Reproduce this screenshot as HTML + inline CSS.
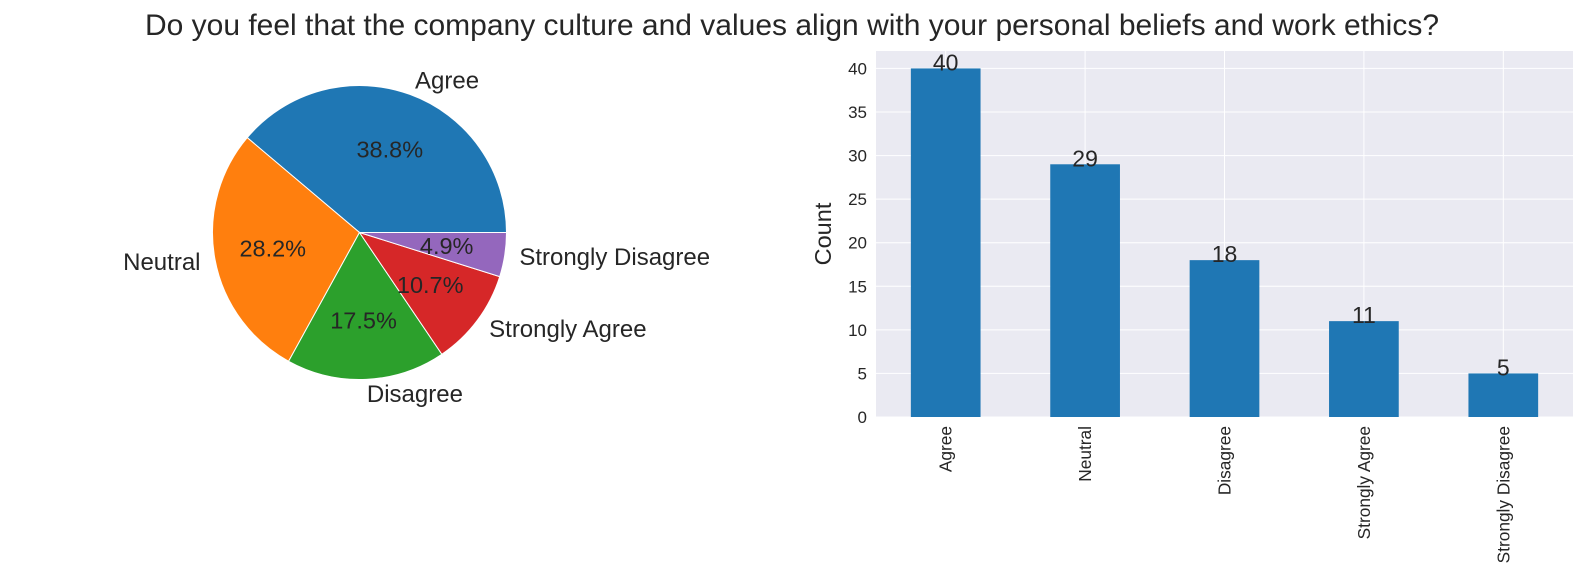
<!DOCTYPE html>
<html><head><meta charset="utf-8"><style>
body{margin:0;background:#fff;}
svg{display:block;font-family:"Liberation Sans",Arial,sans-serif;}
</style></head><body>
<svg id="c" width="1584" height="576" xmlns="http://www.w3.org/2000/svg">
<text x="792" y="35" text-anchor="middle" font-size="30" fill="#262626">Do you feel that the company culture and values align with your personal beliefs and work ethics?</text>
<g id="pie"></g>
<g id="bar"></g>
</svg>
<script>
const categories = ["Agree","Neutral","Disagree","Strongly Agree","Strongly Disagree"];
const counts = [40,29,18,11,5];
const yTicks = [0,5,10,15,20,25,30,35,40];
const colors = ["#1f77b4","#ff7f0e","#2ca02c","#d62728","#9467bd"];
const NS="http://www.w3.org/2000/svg";
function mk(tag,attrs,parent,text){const e=document.createElementNS(NS,tag);for(const k in attrs)e.setAttribute(k,attrs[k]);if(text!==undefined)e.textContent=text;parent.appendChild(e);return e;}
// Pie
const pie=document.getElementById('pie');
const cx=359.5,cy=232.5,R=147;
const total=counts.reduce((a,b)=>a+b,0);
let a0=0;
counts.forEach((v,i)=>{
  const frac=v/total, a1=a0+frac*2*Math.PI;
  const x0=cx+R*Math.cos(a0),y0=cy-R*Math.sin(a0),x1=cx+R*Math.cos(a1),y1=cy-R*Math.sin(a1);
  const large=frac>0.5?1:0;
  const p=mk('path',{d:`M${cx},${cy} L${x0},${y0} A${R},${R} 0 ${large} 0 ${x1},${y1} Z`,fill:colors[i],stroke:'#fff','stroke-width':1},pie);
  
  
  const am=(a0+a1)/2, c=Math.cos(am), s=Math.sin(am);
  const lt=mk('text',{x:cx+1.1*R*c,y:cy-1.1*R*s+8,'text-anchor':c>=0?'start':'end','font-size':24,fill:'#262626'},pie,categories[i]);
  
  
  const pt=mk('text',{x:cx+0.6*R*c,y:cy-0.6*R*s+8,'text-anchor':'middle','font-size':23.5,fill:'#262626'},pie,(frac*100).toFixed(1)+'%');
  
  
  a0=a1;
});
// Bar
const bar=document.getElementById('bar');
const L=876,Rt=1573,T=51,B=417,yMax=42;
const xs=i=>L+(i+0.5)*(Rt-L)/categories.length;
const ys=v=>B-v*(B-T)/yMax;
const bg=mk('rect',{x:L,y:T,width:Rt-L,height:B-T,fill:'#eaeaf2'},bar);


yTicks.forEach(t=>{
  const gl=mk('line',{x1:L,x2:Rt,y1:ys(t),y2:ys(t),stroke:'#fff','stroke-width':1},bar);
  
  
  const tl=mk('text',{x:L-9,y:ys(t)+6,'text-anchor':'end','font-size':17,fill:'#262626'},bar,t);
  
  
});
categories.forEach((c,i)=>{
  const gl=mk('line',{x1:xs(i),x2:xs(i),y1:T,y2:B,stroke:'#fff','stroke-width':1},bar);
  
  
});
const bw=0.5*(Rt-L)/categories.length;
categories.forEach((c,i)=>{
  const r=mk('rect',{x:xs(i)-bw/2,y:ys(counts[i]),width:bw,height:B-ys(counts[i]),fill:'#1f77b4'},bar);
  
  
  const v=mk('text',{x:xs(i),y:ys(counts[i])+2,'text-anchor':'middle','font-size':23,fill:'#262626'},bar,counts[i]);
  
  
  const xl=mk('text',{x:0,y:0,'text-anchor':'end','font-size':17.3,fill:'#262626',transform:`translate(${xs(i)+6},426) rotate(-90)`},bar,c);
  
  
});
const yl=mk('text',{x:0,y:0,'text-anchor':'middle','font-size':23.5,fill:'#262626',transform:`translate(831,${(T+B)/2}) rotate(-90)`},bar,'Count');


</script>
</body></html>
